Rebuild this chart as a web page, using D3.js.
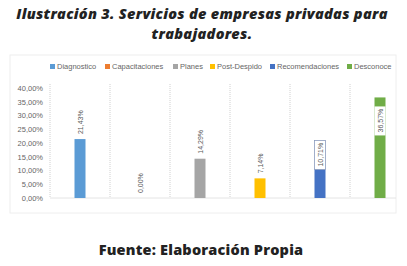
<!DOCTYPE html>
<html>
<head>
<meta charset="utf-8">
<script src="https://cdn.jsdelivr.net/npm/d3@7"></script>
<style>
  body { margin: 0; background: #fff; }
  svg { display: block; }
</style>
</head>
<body>
<script>
const categories = ["Diagnostico", "Capacitaciones", "Planes", "Post-Despido", "Recomendaciones", "Desconoce"];
const values = [21.43, 0.00, 14.29, 7.14, 10.71, 36.57];
const colors = ["#5B9BD5", "#ED7D31", "#A5A5A5", "#FFC000", "#4472C4", "#70AD47"];
const yTicks = [0, 5, 10, 15, 20, 25, 30, 35, 40];
const titleLines = ["Ilustración 3.  Servicios de empresas privadas para", "trabajadores."];
const footer = "Fuente: Elaboración Propia";

const totalWidth = 407;
const totalHeight = 266;
const fmt = v => v.toFixed(2).replace(".", ",") + "%";

const svg = d3.select("body")
  .append("svg")
  .attr("width", totalWidth)
  .attr("height", totalHeight);

// title
svg.selectAll("text.title")
  .data(titleLines)
  .enter()
  .append("text")
  .attr("class", "title")
  .attr("x", 202)
  .attr("y", (d, i) => 19 + i * 20)
  .attr("text-anchor", "middle")
  .style("font-family", "'Open Sans', sans-serif")
  .style("font-weight", 800)
  .style("font-style", "italic")
  .style("font-size", "14.5px")
  .style("letter-spacing", "0.3px")
  .style("fill", "#222")
  .text(d => d);

// chart frame
svg.append("rect")
  .attr("x", 10).attr("y", 55)
  .attr("width", 386).attr("height", 158)
  .attr("fill", "none")
  .attr("stroke", "#eeeeee");

const xScale = d3.scaleBand()
  .domain(categories)
  .range([50, 410]);

const yScale = d3.scaleLinear()
  .domain([0, 40])
  .range([198, 88]);

// vertical dotted separators
svg.append("g")
  .selectAll("line")
  .data(categories)
  .enter()
  .append("line")
  .attr("x1", d => xScale(d))
  .attr("x2", d => xScale(d))
  .attr("y1", 84)
  .attr("y2", 198)
  .attr("stroke", "#d0d0d0")
  .attr("stroke-dasharray", "1,1");

// y axis
const yAxis = svg.append("g")
  .attr("transform", "translate(45,0)")
  .call(d3.axisLeft(yScale).tickValues(yTicks).tickFormat(fmt).tickSize(0).tickPadding(2));
yAxis.select(".domain").remove();
yAxis.selectAll("text")
  .style("font-family", "'Liberation Sans', sans-serif")
  .style("font-size", "7.5px")
  .style("fill", "#666");

// baseline
svg.append("line")
  .attr("x1", 50).attr("x2", 396)
  .attr("y1", 198).attr("y2", 198)
  .attr("stroke", "#e4e4e4");

const barW = 11;
const data = categories.map((c, i) => ({ c, v: values[i], color: colors[i], i }));

svg.selectAll("rect.bar")
  .data(data)
  .enter()
  .append("rect")
  .attr("class", "bar")
  .attr("x", d => xScale(d.c) + xScale.bandwidth() / 2 - barW / 2)
  .attr("y", d => yScale(d.v))
  .attr("width", barW)
  .attr("height", d => 198 - yScale(d.v))
  .attr("fill", d => d.color);

// data labels
const labels = svg.selectAll("g.lbl")
  .data(data)
  .enter()
  .append("g")
  .attr("class", "lbl")
  .attr("transform", d => {
    const cx = xScale(d.c) + xScale.bandwidth() / 2;
    let y0 = yScale(d.v) - 5;
    if (d.i === 4) y0 = yScale(d.v) - 2;
    if (d.i === 5) y0 = yScale(d.v) + 35;
    return `translate(${cx},${y0}) rotate(-90)`;
  });

labels.filter(d => d.i >= 4)
  .append("rect")
  .attr("x", -3)
  .attr("y", -barW / 2)
  .attr("width", 29)
  .attr("height", barW)
  .attr("fill", "#fff")
  .attr("stroke", d => d.i === 4 ? "#8a9bbd" : "none")
  .attr("stroke-width", 0.8);

labels.append("text")
  .attr("x", 0)
  .attr("y", 2.5)
  .style("font-family", "'Liberation Sans', sans-serif")
  .style("font-size", "7px")
  .style("fill", "#595959")
  .text(d => fmt(d.v));

// legend
const legendX = [50, 105, 173, 210, 270, 347];
const legend = svg.selectAll("g.leg")
  .data(data)
  .enter()
  .append("g")
  .attr("class", "leg")
  .attr("transform", d => `translate(${legendX[d.i]},67)`);
legend.append("rect")
  .attr("x", 0).attr("y", -3)
  .attr("width", 5).attr("height", 5)
  .attr("fill", d => d.color);
legend.append("text")
  .attr("x", 7)
  .attr("y", 2)
  .style("font-family", "'Liberation Sans', sans-serif")
  .style("font-size", "7.5px")
  .style("fill", "#666")
  .text(d => d.c);

// footer
svg.append("text")
  .attr("x", 201)
  .attr("y", 255)
  .attr("text-anchor", "middle")
  .style("font-family", "'Open Sans', sans-serif")
  .style("font-weight", 800)
  .style("font-size", "14.5px")
  .style("letter-spacing", "0.2px")
  .style("fill", "#222")
  .text(footer);
</script>
</body>
</html>
